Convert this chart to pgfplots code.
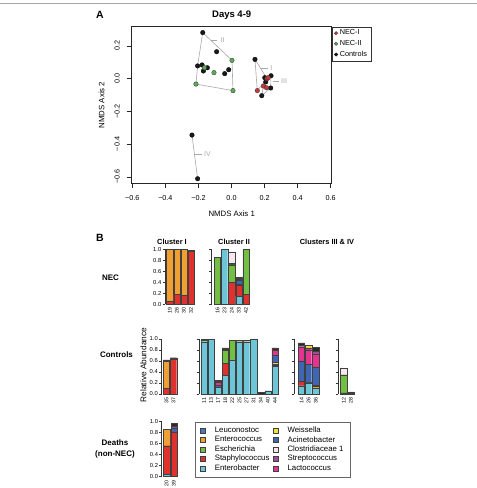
\documentclass[border=0pt]{standalone}
\usepackage{fontspec}
\setmainfont{Liberation Sans}
\usepackage{pgfplots}
\usepackage{pgfplotstable}
\pgfplotsset{compat=1.18}

\definecolor{cEnb}{HTML}{6CC6D8}
\definecolor{cSta}{HTML}{E0312F}
\definecolor{cEsc}{HTML}{72BF44}
\definecolor{cEnc}{HTML}{F0A032}
\definecolor{cAci}{HTML}{3F66B2}
\definecolor{cLeu}{HTML}{4A78C0}
\definecolor{cLac}{HTML}{E5338F}
\definecolor{cStr}{HTML}{A04C9C}
\definecolor{cWei}{HTML}{F2E33C}
\definecolor{cClo}{HTML}{F7E8F0}
\definecolor{cDk}{HTML}{2A2A22}
\definecolor{cEdge}{HTML}{404040}
\definecolor{cNecI}{HTML}{C8373A}
\definecolor{cNecII}{HTML}{5DAA55}
\definecolor{cHull}{HTML}{A8A8A8}

\tikzset{lab/.style={text=cHull, font=\fontsize{7}{8}\selectfont, anchor=center}}
\pgfplotsset{hull/.style={color=cHull, line width=0.6pt, forget plot}}

\pgfplotstableread{
id k0 cy rd k1 gr k2 or k3 bl mg pu ye pk kt
19 0 0 .05 0 0 0 .95 0 0 0 0 0 0 0
26 0 0 .18 .01 0 0 .81 0 0 0 0 0 0 0
30 0 0 .16 0 0 0 .84 0 0 0 0 0 0 0
32 0 0 .96 0 0 0 0 0 0 0 0 0 0 .03
}\necI
\pgfplotstableread{
id k0 cy rd k1 gr k2 or k3 bl mg pu ye pk kt
16 0 0 0 0 .85 0 0 0 0 0 0 0 0 0
23 0 1 0 0 0 0 0 0 0 0 0 0 0 0
24 0 0 .40 0 .32 .02 0 0 0 0 0 0 .20 0
33 0 .15 .20 0 0 0 0 .02 .06 .03 .02 0 0 .02
42 0 0 .18 0 .82 0 0 0 0 0 0 0 0 0
}\necII
\pgfplotstableread{
id k0 cy rd k1 gr k2 or k3 bl mg pu ye pk kt
35 0 0 .10 0 0 0 .50 0 0 0 0 0 0 .02
37 0 0 .64 0 0 0 0 0 0 0 0 0 0 .02
}\ctlI
\pgfplotstableread{
id k0 cy rd k1 gr k2 or k3 bl mg pu ye pk kt
11 0 .95 0 0 .03 0 0 0 0 0 0 0 0 .01
13 0 .99 0 0 0 0 0 0 0 0 0 0 0 0
17 0 .12 0 0 0 0 0 0 .04 .05 .03 0 0 .01
18 0 .34 .22 0 .23 0 .02 0 0 0 0 0 0 .03
22 0 .62 0 0 .36 0 0 0 0 0 0 0 0 0
25 0 .95 0 0 0 0 .02 0 0 0 0 0 0 .01
27 0 .95 0 0 0 0 .02 0 0 0 0 0 0 .01
31 0 1 0 0 0 0 0 0 0 0 0 0 0 0
34 .04 0 0 0 0 0 0 0 0 0 0 0 0 0
40 0 .06 0 0 0 0 0 0 0 0 0 0 0 0
44 0 .50 .03 0 0 .02 .02 0 .13 .10 0 0 0 .04
}\ctlII
\pgfplotstableread{
id k0 cy rd k1 gr k2 or k3 bl mg pu ye pk kt
14 0 .15 .09 0 0 0 0 0 .36 .26 .03 0 0 .04
26 0 .20 0 0 0 .02 0 0 .32 .25 .05 .04 0 .01
36 0 .10 0 0 0 0 .04 .02 .32 .25 .05 0 0 .07
}\ctlIII
\pgfplotstableread{
id k0 cy rd k1 gr k2 or k3 bl mg pu ye pk kt
12 .02 0 0 0 .33 0 0 0 0 0 0 0 .12 0
28 .02 0 0 0 .02 0 0 0 0 0 0 0 0 0
}\ctlIV
\pgfplotstableread{
id k0 cy rd k1 gr k2 or k3 bl mg pu ye pk kt
20 0 .05 .51 0 0 0 .30 0 0 0 0 0 0 0
39 0 0 .81 0 0 0 0 0 .06 0 .05 0 0 .05
}\death

\newcommand{\stackbars}[1]{%
\addplot[fill=cDk] table[x expr=\coordindex,y=k0]{#1};
\addplot[fill=cEnb] table[x expr=\coordindex,y=cy]{#1};
\addplot[fill=cSta] table[x expr=\coordindex,y=rd]{#1};
\addplot[fill=cDk] table[x expr=\coordindex,y=k1]{#1};
\addplot[fill=cEsc] table[x expr=\coordindex,y=gr]{#1};
\addplot[fill=cDk] table[x expr=\coordindex,y=k2]{#1};
\addplot[fill=cEnc] table[x expr=\coordindex,y=or]{#1};
\addplot[fill=cDk] table[x expr=\coordindex,y=k3]{#1};
\addplot[fill=cAci] table[x expr=\coordindex,y=bl]{#1};
\addplot[fill=cLac] table[x expr=\coordindex,y=mg]{#1};
\addplot[fill=cStr] table[x expr=\coordindex,y=pu]{#1};
\addplot[fill=cWei] table[x expr=\coordindex,y=ye]{#1};
\addplot[fill=cClo] table[x expr=\coordindex,y=pk]{#1};
\addplot[fill=cDk] table[x expr=\coordindex,y=kt]{#1};
}

\pgfplotsset{bp/.style={
  anchor=south west,
  ybar stacked, bar width=6.2pt,
  x=7.1pt, y=55pt,
  ymin=0, ymax=1,
  axis lines*=left,
  x axis line style={draw=none},
  xtick style={draw=none},
  y axis line style={line width=0.45pt, black!80},
  ytick style={line width=0.45pt, black!80},
  ytick={0,0.2,0.4,0.6,0.8,1},
  yticklabels={0.0,0.2,0.4,0.6,0.8,1.0},
  tick align=outside,
  major tick length=2.5pt,
  yticklabel style={font=\fontsize{5.8}{6}\selectfont, inner sep=1pt},
  xticklabel style={rotate=90, anchor=east, font=\fontsize{5.3}{6}\selectfont, inner sep=1pt},
  xtick=data,
  clip=false,
  every axis plot/.append style={draw=cEdge, line width=0.3pt},
}}

\begin{document}
\begin{tikzpicture}[x=1pt,y=1pt]
\useasboundingbox (0,0) rectangle (477,488);
\draw[black!35, line width=0.8pt] (0,484.5) -- (477,484.5);

% ---------------- Panel A
\begin{axis}[
 at={(131.7pt,304.7pt)}, anchor=south west, scale only axis,
 width=200pt, height=156.6pt,
 xmin=-0.6036, xmax=0.606, ymin=-0.64, ymax=0.318,
 axis line style={line width=0.5pt, black!85},
 xtick={-0.6,-0.4,-0.2,0,0.2,0.4,0.6},
 xticklabels={−0.6,−0.4,−0.2,0.0,0.2,0.4,0.6},
 ytick={-0.6,-0.4,-0.2,0,0.2},
 yticklabels={−0.6,−0.4,−0.2,0.0,0.2},
 tick pos=left, tick align=outside, major tick length=5pt,
 tick style={line width=0.5pt, black!85},
 ticklabel style={font=\fontsize{7.2}{8}\selectfont},
 xticklabel shift=4pt,
 yticklabel style={rotate=90, anchor=south},
 yticklabel shift=3.5pt,
 xlabel={NMDS Axis 1}, ylabel={NMDS Axis 2},
 label style={font=\fontsize{7.8}{9}\selectfont},
 xlabel style={at={(axis description cs:0.5,-0.196)}, anchor=center},
 ylabel style={at={(axis description cs:-0.15,0.5)}, anchor=center},
 title={Days 4-9},
 every axis title shift=0pt,
 title style={at={(axis description cs:0.5,1.0747)}, anchor=center, font=\bfseries\fontsize{9.5}{10}\selectfont},
 legend style={at={(axis description cs:1,1)}, anchor=north west, font=\fontsize{7.3}{8}\selectfont, draw=black!80, line width=0.4pt, inner xsep=2.5pt, inner ysep=1pt, cells={anchor=west}},
 legend image code/.code={\draw[#1] plot coordinates {(2pt,0pt)};},
 legend image post style={mark size=1.7pt},
 reverse legend,
 clip=false,
]
\addplot[hull] coordinates {(-0.174,0.282) (0.003,0.112) (0.009,-0.073) (-0.215,-0.033) (-0.205,0.078) (-0.174,0.282)};
\addplot[hull] coordinates {(0.142,0.118) (0.215,0.0) (0.156,-0.073) (0.142,0.118)};
\addplot[hull] coordinates {(0.201,0.006) (0.239,0.018) (0.237,-0.057) (0.183,-0.104) (0.201,0.006)};
\addplot[hull] coordinates {(-0.239,-0.345) (-0.205,-0.612)};
\addplot[hull] coordinates {(-0.126,0.235) (-0.090,0.235)};
\addplot[hull] coordinates {(0.181,0.063) (0.219,0.063)};
\addplot[hull] coordinates {(0.249,-0.014) (0.285,-0.014)};
\addplot[hull] coordinates {(-0.221,-0.463) (-0.176,-0.463)};
\node[lab] at (axis cs:-0.053,0.235) {II};
\node[lab] at (axis cs:0.241,0.063) {I};
\node[lab] at (axis cs:0.318,-0.014) {III};
\node[lab] at (axis cs:-0.146,-0.463) {IV};

\addplot[only marks, mark=*, mark size=2.3pt, mark options={fill=black!90, draw=black, line width=0.3pt}] coordinates {
(-0.174,0.282) (-0.090,0.165) (-0.205,0.078) (-0.178,0.084) (-0.146,0.067) (-0.170,0.047)
(-0.017,0.055) (-0.041,0.031) (0.142,0.118) (0.239,0.018) (0.201,0.006) (0.207,-0.020)
(0.237,-0.057) (0.183,-0.104) (-0.239,-0.345) (-0.205,-0.612)};
\addlegendentry{Controls}
\addplot[only marks, mark=*, mark size=2.3pt, mark options={fill=cNecII, draw=black!80, line width=0.3pt}] coordinates {
(0.003,0.112) (-0.164,0.067) (-0.106,0.037) (-0.215,-0.033) (0.009,-0.073)};
\addlegendentry{NEC-II}
\addplot[only marks, mark=*, mark size=2.3pt, mark options={fill=cNecI, draw=black!80, line width=0.3pt}] coordinates {
(0.215,0.0) (0.222,0.006) (0.193,-0.045) (0.211,-0.055) (0.156,-0.073)};
\addlegendentry{NEC-I}
\end{axis}

% ---------------- Panel B bars
\begin{axis}[bp, at={(165pt,183.7pt)}, xmin=-0.66, xmax=3.5, xticklabels={19,26,30,32}]
\stackbars{\necI}
\end{axis}
\begin{axis}[bp, at={(211.5pt,183.7pt)}, xmin=-0.85, xmax=4.5, xticklabels={16,23,24,33,42}, yticklabels={}]
\stackbars{\necII}
\end{axis}
\begin{axis}[bp, at={(161.5pt,94pt)}, xmin=-0.70, xmax=1.5, xticklabels={35,37}]
\stackbars{\ctlI}
\end{axis}
\begin{axis}[bp, at={(199pt,94pt)}, xmin=-0.70, xmax=10.5, xticklabels={11,13,17,18,22,25,27,31,34,40,44}, yticklabels={}]
\stackbars{\ctlII}
\end{axis}
\begin{axis}[bp, at={(294pt,94pt)}, xmin=-1.06, xmax=2.5, xticklabels={14,26,36}, yticklabels={}]
\stackbars{\ctlIII}
\end{axis}
\begin{axis}[bp, at={(338pt,94pt)}, xmin=-0.80, xmax=1.5, xticklabels={12,28}, yticklabels={}]
\stackbars{\ctlIV}
\end{axis}
\begin{axis}[bp, at={(161.7pt,11.5pt)}, xmin=-0.70, xmax=1.5, xticklabels={20,39}]
\stackbars{\death}
\end{axis}

% ---------------- Legend B
\begin{axis}[at={(0pt,0pt)}, anchor=south west, scale only axis, width=477pt, height=488pt,
 xmin=0, xmax=1, ymin=0, ymax=1, hide axis,
 legend columns=2,
 legend style={at={(axis description cs:0.4088,0.1359)}, anchor=north west, draw=black!60, line width=0.5pt,
   font=\fontsize{7.8}{9}\selectfont, inner xsep=5pt, inner ysep=3pt, row sep=-1.7pt,
   cells={anchor=west},
   /tikz/every odd column/.append style={column sep=7pt},
   /tikz/every even column/.append style={column sep=1.5pt}},
 legend image code/.code={\draw[#1, line width=0.4pt] (0pt,-2.6pt) rectangle (5.2pt,2.6pt);},
]
\addlegendimage{fill=cLeu, draw=cEdge}\addlegendentry{Leuconostoc}
\addlegendimage{fill=cWei, draw=cEdge}\addlegendentry{Weissella}
\addlegendimage{fill=cEnc, draw=cEdge}\addlegendentry{Enterococcus}
\addlegendimage{fill=cAci, draw=cEdge}\addlegendentry{Acinetobacter}
\addlegendimage{fill=cEsc, draw=cEdge}\addlegendentry{Escherichia}
\addlegendimage{fill=cClo, draw=cEdge}\addlegendentry{Clostridiaceae 1}
\addlegendimage{fill=cSta, draw=cEdge}\addlegendentry{Staphylococcus}
\addlegendimage{fill=cStr, draw=cEdge}\addlegendentry{Streptococcus}
\addlegendimage{fill=cEnb, draw=cEdge}\addlegendentry{Enterobacter}
\addlegendimage{fill=cLac, draw=cEdge}\addlegendentry{Lactococcus}
\end{axis}

% ---------------- Texts
\node[font=\bfseries\fontsize{10.5}{11}\selectfont] at (100,473) {A};
\node[font=\bfseries\fontsize{10.5}{11}\selectfont] at (100,250) {B};
\node[font=\bfseries\fontsize{7.4}{8}\selectfont] at (172,246) {Cluster I};
\node[font=\bfseries\fontsize{7.4}{8}\selectfont] at (234,246) {Cluster II};
\node[font=\bfseries\fontsize{7.4}{8}\selectfont] at (327,246) {Clusters III \& IV};
\node[font=\bfseries\fontsize{8}{9}\selectfont] at (110.5,210) {NEC};
\node[font=\bfseries\fontsize{8}{9}\selectfont] at (116.5,133) {Controls};
\node[font=\bfseries\fontsize{8}{9}\selectfont] at (115,45) {Deaths};
\node[font=\bfseries\fontsize{8}{9}\selectfont] at (115,34) {(non-NEC)};
\node[font=\fontsize{8.3}{9}\selectfont, rotate=90] at (143.5,123) {Relative Abundance};
\end{tikzpicture}
\end{document}
